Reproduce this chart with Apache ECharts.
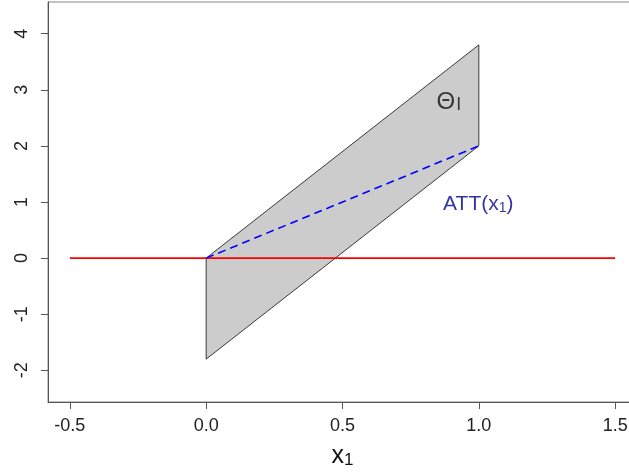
<!DOCTYPE html>
<html><head><meta charset="utf-8">
<script src="https://cdn.jsdelivr.net/npm/echarts@6/dist/echarts.min.js"></script>
<style>html,body{margin:0;padding:0;background:#fff}#c{width:629px;height:472px}</style>
</head><body><div id="c"></div>
<script>
const xTicks = [-0.5, 0.0, 0.5, 1.0, 1.5];
const yTicks = [-2, -1, 0, 1, 2, 3, 4];
const identifiedSet = [[0, 0], [1, 3.8], [1, 2], [0, -1.8]];
const zeroLine = [[-0.5, 0], [1.5, 0]];
const attLine = [[0, 0], [1, 2]];
const thetaLabelPos = [0.89, 2.8];
const attLabelPos = [0.998, 0.98];

const FONT = 'Liberation Sans, Arial, sans-serif';
const chart = echarts.init(document.getElementById('c'));
chart.setOption({
  animation: false,
  grid: { left: 48, top: 2, width: 589, height: 400, outerBoundsMode: 'none', containLabel: false,
          show: true, borderColor: '#888', borderWidth: 1, backgroundColor: 'transparent' },
  xAxis: {
    type: 'value', min: -0.58, max: 1.58,
    splitLine: { show: false },
    axisLine: { show: true, onZero: false, lineStyle: { color: '#555', width: 1 } },
    axisTick: { show: true, length: 7, lineStyle: { color: '#555' }, customValues: xTicks },
    axisLabel: { customValues: xTicks, formatter: v => v.toFixed(1), color: '#222', fontSize: 18, fontFamily: FONT, margin: 15 },
    name: '{a|x}{b|1}', nameLocation: 'middle', nameGap: 39,
    nameTextStyle: { rich: {
      a: { fontSize: 25, fontFamily: FONT, color: '#111', verticalAlign: 'bottom', lineHeight: 28 },
      b: { fontSize: 17, fontFamily: FONT, color: '#111', verticalAlign: 'bottom', lineHeight: 20 }
    } }
  },
  yAxis: {
    type: 'value', min: -2.564, max: 4.564,
    splitLine: { show: false },
    axisLine: { show: true, onZero: false, lineStyle: { color: '#555', width: 1 } },
    axisTick: { show: true, length: 7, lineStyle: { color: '#555' }, customValues: yTicks },
    axisLabel: { customValues: yTicks, rotate: 90, color: '#222', fontSize: 18, fontFamily: FONT, margin: 17 }
  },
  series: [
    {
      type: 'custom', silent: true, z: 1,
      data: [0],
      renderItem: function (params, api) {
        const pts = identifiedSet.map(p => api.coord(p));
        return { type: 'polygon', shape: { points: pts }, style: { fill: '#cccccc', stroke: '#3a3a3a', lineWidth: 1 } };
      }
    },
    {
      type: 'line', data: zeroLine, symbol: 'none', z: 3,
      lineStyle: { color: '#ff0000', width: 1.6 }
    },
    {
      type: 'line', data: attLine, symbol: 'none', z: 4,
      lineStyle: { color: '#0000ff', width: 1.6, type: [8, 5] }
    },
    {
      type: 'scatter', symbolSize: 0, z: 5, silent: true,
      data: [
        { value: thetaLabelPos, label: { show: true, position: 'inside', formatter: '{a|Θ}{b|I}', rich: {
          a: { fontSize: 24, fontFamily: FONT, color: '#111', verticalAlign: 'bottom', lineHeight: 26 },
          b: { fontSize: 18, fontFamily: FONT, color: '#111', verticalAlign: 'bottom', lineHeight: 19, padding: [0, 0, 0, 1] } } } },
        { value: attLabelPos, label: { show: true, position: 'inside', formatter: '{a|ATT(x}{b|1}{a|)}', rich: {
          a: { fontSize: 21, fontFamily: FONT, color: '#00008b', verticalAlign: 'bottom', lineHeight: 24 },
          b: { fontSize: 14, fontFamily: FONT, color: '#00008b', verticalAlign: 'bottom', lineHeight: 18 } } } }
      ]
    }
  ]
});
</script></body></html>
